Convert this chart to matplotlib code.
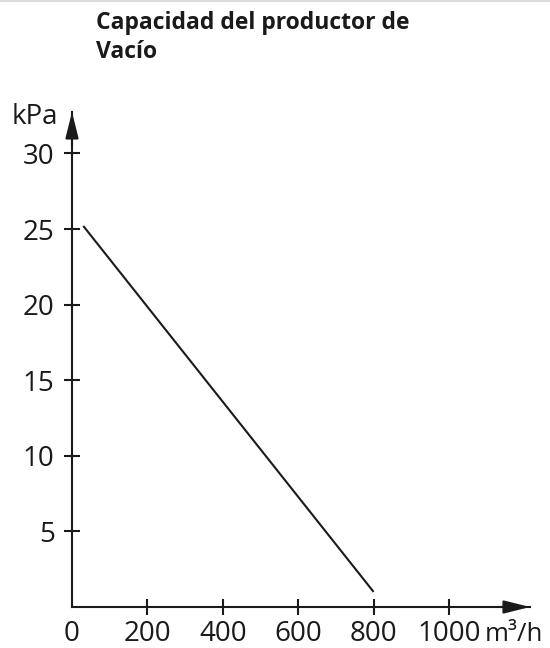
import matplotlib.pyplot as plt
from matplotlib.lines import Line2D

# data
line_x = [30, 800]          # m3/h
line_y = [25.2, 1.0]        # kPa
xticks = [0, 200, 400, 600, 800, 1000]
xtick_labels = ["0", "200", "400", "600", "800", "1000"]
yticks = [5, 10, 15, 20, 25, 30]
ytick_labels = ["5", "10", "15", "20", "25", "30"]

plt.rcParams['font.family'] = ['Open Sans', 'DejaVu Sans']
INK = '#1a1a1a'

W, H = 550, 648
fig = plt.figure(figsize=(W / 100, H / 100), dpi=100)

# axes box: origin at pixel (72, 607), arrow tips at x=530 / y=112
x0, y0, x1, y1 = 72, 607, 530, 112
ax = fig.add_axes([x0 / W, (H - y0) / H, (x1 - x0) / W, (y0 - y1) / H])
xmax = (x1 - x0) / (75.4 / 200)
ymax = (y0 - y1) / (75.6 / 5)
ax.set_xlim(0, xmax)
ax.set_ylim(0, ymax)

for s in ['top', 'right']:
    ax.spines[s].set_visible(False)
for s in ['left', 'bottom']:
    ax.spines[s].set_linewidth(1.5)
    ax.spines[s].set_color(INK)

ax.set_xticks(xticks)
ax.set_xticklabels(xtick_labels)
ax.set_yticks(yticks)
ax.set_yticklabels(ytick_labels)
ax.tick_params(direction='inout', length=11, width=1.5, color=INK,
               labelsize=20, labelcolor=INK)
ax.tick_params(axis='x', pad=4)
ax.tick_params(axis='y', pad=7)
ax.xaxis.get_major_ticks()[0].tick1line.set_visible(False)

# arrow heads
ax.annotate('', xy=(1, 0), xytext=(0.93, 0), xycoords='axes fraction',
            arrowprops=dict(arrowstyle='-|>,head_length=1.6,head_width=0.4',
                            color=INK, lw=1.5, shrinkA=0, shrinkB=0),
            annotation_clip=False)
ax.annotate('', xy=(0, 1), xytext=(0, 0.93), xycoords='axes fraction',
            arrowprops=dict(arrowstyle='-|>,head_length=1.6,head_width=0.4',
                            color=INK, lw=1.5, shrinkA=0, shrinkB=0),
            annotation_clip=False)

ax.plot(line_x, line_y, color=INK, lw=1.5, solid_capstyle='butt')

# unit labels
fig.text(12 / W, 1 - 124 / H, "kPa", ha='left', va='baseline', fontsize=20, color=INK)
fig.text(485 / W, 1 - 641 / H, "m³/h", ha='left', va='baseline', fontsize=18.5, color=INK)

# title
fig.text(96 / W, 1 - 11 / H, "Capacidad del productor de\nVacío", ha='left', va='top',
         fontsize=16.5, fontweight='bold', color=INK, linespacing=1.25)

fig.add_artist(Line2D([0, 1], [1 - 1 / H, 1 - 1 / H], color='#dddddd', lw=1.5))

fig.savefig('out.png', dpi=100)
